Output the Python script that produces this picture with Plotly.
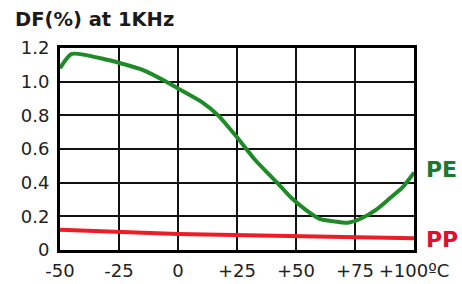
import plotly.graph_objects as go

pe_x = [-50, -45, -30, -15, -5, 0, 10, 17, 25, 33, 42, 48, 54, 60, 66, 72, 78, 84, 90, 95, 100]
pe_y = [1.08, 1.165, 1.13, 1.07, 1.0, 0.96, 0.88, 0.80, 0.67, 0.53, 0.40, 0.31, 0.24, 0.185, 0.17, 0.162, 0.19, 0.24, 0.31, 0.37, 0.46]
pp_x = [-50, 0, 100]
pp_y = [0.12, 0.095, 0.07]

x_ticks = [-50, -25, 0, 25, 50, 75, 100]
x_labels = ["-50", "-25", "0", "+25", "+50", "+75", "+100ºC"]
y_ticks = [0, 0.2, 0.4, 0.6, 0.8, 1.0, 1.2]
y_labels = ["0", "0.2", "0.4", "0.6", "0.8", "1.0", "1.2"]

FONT = "DejaVu Sans"

fig = go.Figure()
fig.add_trace(go.Scatter(x=pe_x, y=pe_y, mode="lines",
                         line=dict(color="#1e8a28", width=4, shape="spline", smoothing=0.6), showlegend=False))
fig.add_trace(go.Scatter(x=pp_x, y=pp_y, mode="lines", line=dict(color="#ee1c24", width=4), showlegend=False))

fig.add_annotation(x=1.0, y=0.48, xref="paper", yref="y", text="<b>PE</b>", showarrow=False,
                   xanchor="left", yanchor="middle", xshift=10, font=dict(family=FONT, size=22, color="#1a7a2a"))
fig.add_annotation(x=1.0, y=0.065, xref="paper", yref="y", text="<b>PP</b>", showarrow=False,
                   xanchor="left", yanchor="middle", xshift=10, font=dict(family=FONT, size=22, color="#e0102a"))

fig.update_layout(
    width=462, height=284,
    margin=dict(l=60, r=48, t=48, b=34),
    paper_bgcolor="white", plot_bgcolor="white",
    title=dict(text="<b>DF(%) at 1KHz</b>", x=15 / 462, xanchor="left", y=1 - 19 / 284, yanchor="middle",
               font=dict(family=FONT, size=19.5, color="#1a1a1a")),
    font=dict(family=FONT, size=18, color="#222"),
)
fig.update_xaxes(range=[-50, 100], tickvals=x_ticks, ticktext=x_labels, showgrid=True,
                 gridcolor="#111", gridwidth=1.5, showline=True, linecolor="black", linewidth=3,
                 mirror=True, zeroline=False, ticks="", ticklabelstandoff=2, automargin=False)
fig.update_yaxes(range=[0, 1.2], tickvals=y_ticks, ticktext=y_labels, showgrid=True,
                 gridcolor="#111", gridwidth=1.5, showline=True, linecolor="black", linewidth=3,
                 mirror=True, zeroline=False, ticks="", ticklabelstandoff=4, automargin=False)

fig.write_html("out.html", config={"displayModeBar": False},
               post_script="document.body.style.margin='0';")
